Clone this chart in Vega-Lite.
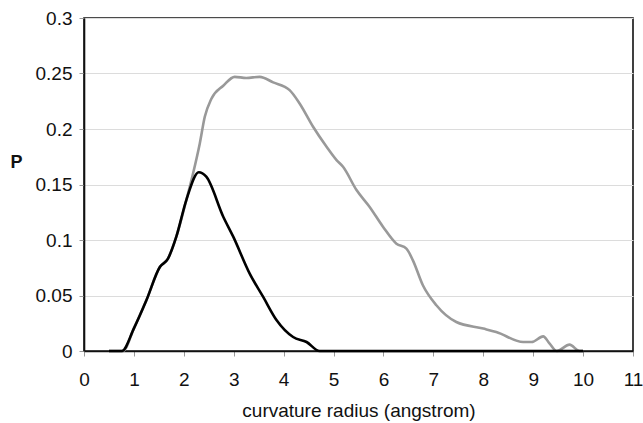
{
  "$schema": "https://vega.github.io/schema/vega-lite/v6.json",
  "autosize": {"type": "none"},
  "padding": {"left": 84, "top": 18, "right": 10, "bottom": 72},
  "width": 549,
  "height": 333,
  "background": "white",
  "config": {
    "font": "Liberation Sans",
    "view": {"stroke": "#111", "strokeWidth": 1.6},
    "axis": {
      "labelFont": "Liberation Sans",
      "titleFont": "Liberation Sans",
      "labelFontSize": 19,
      "titleFontSize": 19,
      "labelColor": "#111",
      "titleColor": "#111",
      "gridColor": "#dcdcdc",
      "gridWidth": 1,
      "tickColor": "#999",
      "tickSize": 5,
      "domainColor": "#111",
      "domainWidth": 1.6
    }
  },
  "data": {
    "values": [
      {"series": "gray", "x": 0.5, "p": 0},
      {"series": "gray", "x": 0.78, "p": 0},
      {"series": "gray", "x": 1.0, "p": 0.0204},
      {"series": "gray", "x": 1.25, "p": 0.0457},
      {"series": "gray", "x": 1.52, "p": 0.0757},
      {"series": "gray", "x": 1.68, "p": 0.083},
      {"series": "gray", "x": 1.85, "p": 0.103},
      {"series": "gray", "x": 2.05, "p": 0.136},
      {"series": "gray", "x": 2.18, "p": 0.159},
      {"series": "gray", "x": 2.32, "p": 0.187},
      {"series": "gray", "x": 2.42, "p": 0.211},
      {"series": "gray", "x": 2.55, "p": 0.227},
      {"series": "gray", "x": 2.79, "p": 0.239},
      {"series": "gray", "x": 3.02, "p": 0.247},
      {"series": "gray", "x": 3.25, "p": 0.246},
      {"series": "gray", "x": 3.52, "p": 0.247},
      {"series": "gray", "x": 3.79, "p": 0.242},
      {"series": "gray", "x": 4.12, "p": 0.235},
      {"series": "gray", "x": 4.32, "p": 0.223},
      {"series": "gray", "x": 4.59, "p": 0.202},
      {"series": "gray", "x": 4.86, "p": 0.184},
      {"series": "gray", "x": 5.06, "p": 0.172},
      {"series": "gray", "x": 5.19, "p": 0.166},
      {"series": "gray", "x": 5.46, "p": 0.145},
      {"series": "gray", "x": 5.72, "p": 0.13},
      {"series": "gray", "x": 5.99, "p": 0.112},
      {"series": "gray", "x": 6.26, "p": 0.0967},
      {"series": "gray", "x": 6.46, "p": 0.0922},
      {"series": "gray", "x": 6.59, "p": 0.0817},
      {"series": "gray", "x": 6.79, "p": 0.0592},
      {"series": "gray", "x": 7.06, "p": 0.0412},
      {"series": "gray", "x": 7.46, "p": 0.0261},
      {"series": "gray", "x": 8.0, "p": 0.0202},
      {"series": "gray", "x": 8.26, "p": 0.0171},
      {"series": "gray", "x": 8.8, "p": 0.0081},
      {"series": "gray", "x": 8.97, "p": 0.0081},
      {"series": "gray", "x": 9.2, "p": 0.0132},
      {"series": "gray", "x": 9.33, "p": 0.0066},
      {"series": "gray", "x": 9.47, "p": 0},
      {"series": "gray", "x": 9.73, "p": 0.0057},
      {"series": "gray", "x": 9.93, "p": 0},
      {"series": "gray", "x": 10.0, "p": 0},
      {"series": "black", "x": 0.5, "p": 0},
      {"series": "black", "x": 0.76, "p": 0},
      {"series": "black", "x": 1.0, "p": 0.0204},
      {"series": "black", "x": 1.25, "p": 0.0457},
      {"series": "black", "x": 1.52, "p": 0.0757},
      {"series": "black", "x": 1.68, "p": 0.083},
      {"series": "black", "x": 1.85, "p": 0.103},
      {"series": "black", "x": 2.05, "p": 0.136},
      {"series": "black", "x": 2.3, "p": 0.161},
      {"series": "black", "x": 2.45, "p": 0.157},
      {"series": "black", "x": 2.79, "p": 0.121},
      {"series": "black", "x": 2.99, "p": 0.103},
      {"series": "black", "x": 3.32, "p": 0.0697},
      {"series": "black", "x": 3.59, "p": 0.0487},
      {"series": "black", "x": 3.86, "p": 0.0277},
      {"series": "black", "x": 4.19, "p": 0.0126},
      {"series": "black", "x": 4.46, "p": 0.0081},
      {"series": "black", "x": 4.72, "p": 0},
      {"series": "black", "x": 10.0, "p": 0}
    ]
  },
  "encoding": {
    "x": {
      "field": "x",
      "type": "quantitative",
      "scale": {"domain": [0, 11], "nice": false},
      "axis": {
        "values": [0, 1, 2, 3, 4, 5, 6, 7, 8, 9, 10, 11],
        "grid": false,
        "labelPadding": 14,
        "title": "curvature radius (angstrom)",
        "titleFontWeight": "normal",
        "titleBaseline": "alphabetic",
        "titleY": 65,
        "labelFlush": false
      }
    },
    "y": {
      "field": "p",
      "type": "quantitative",
      "scale": {"domain": [0, 0.3], "nice": false},
      "axis": {
        "values": [0, 0.05, 0.1, 0.15, 0.2, 0.25, 0.3],
        "labelExpr": "datum.value === 0 ? '0' : format(datum.value, '.3~g')",
        "grid": true,
        "labelPadding": 7,
        "title": "P",
        "titleFontWeight": "bold",
        "titleFontSize": 18,
        "titleAngle": 0,
        "titleAlign": "center",
        "titleBaseline": "middle",
        "titleX": -68,
        "titleY": 144,
        "labelFlush": false
      }
    }
  },
  "layer": [
    {
      "transform": [{"filter": "datum.series === 'gray'"}],
      "mark": {"type": "line", "color": "#999999", "strokeWidth": 2.6, "interpolate": "monotone"}
    },
    {
      "transform": [{"filter": "datum.series === 'black'"}],
      "mark": {"type": "line", "color": "#000000", "strokeWidth": 2.6, "interpolate": "monotone"}
    }
  ]
}
